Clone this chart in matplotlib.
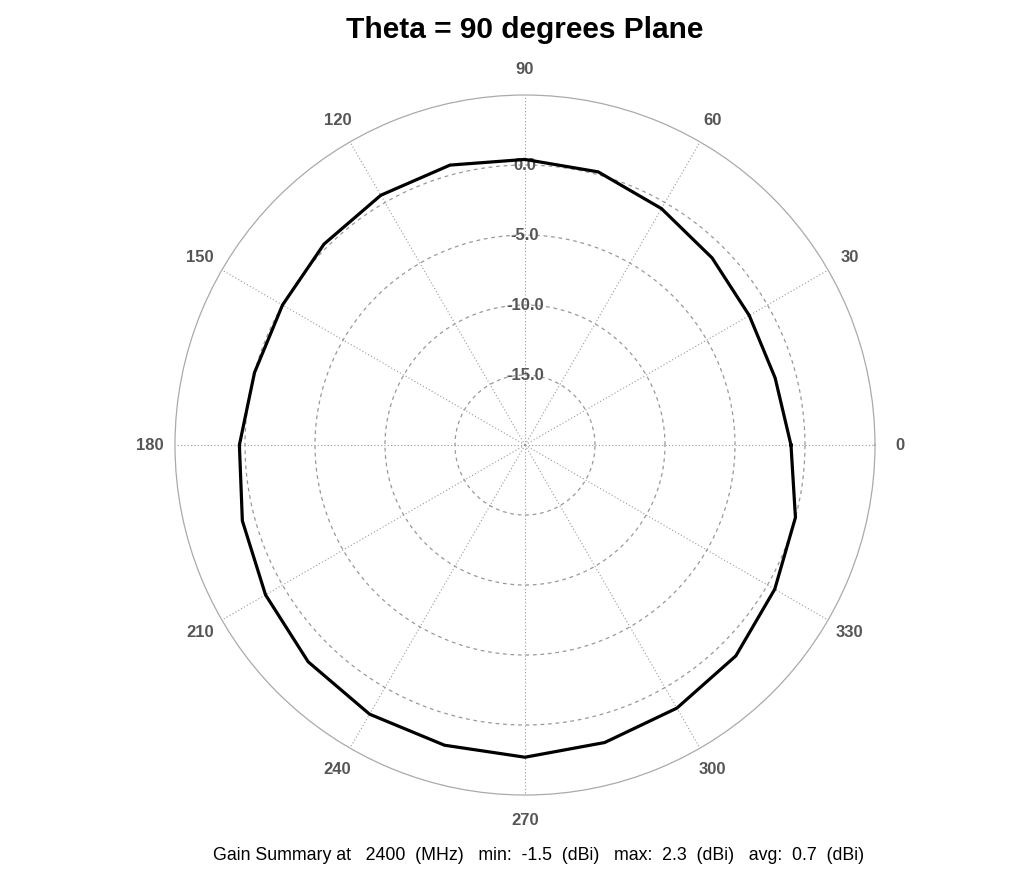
import numpy as np
import matplotlib
matplotlib.use("Agg")
import matplotlib.pyplot as plt

plt.rcParams['font.family'] = ['Liberation Sans', 'DejaVu Sans']

# pattern (Theta = 90 plane), phi in degrees, gain in dBi
phi_deg = [0, 15, 30, 45, 60, 75, 90, 105, 120, 135, 150, 165,
           180, 195, 210, 225, 240, 255, 270, 285, 300, 315, 330, 345]
gain_dbi = [-1.0, -1.5, -1.5, -1.1, -0.5, 0.2, 0.4, 0.7, 0.6, 0.3, 0.0, 0.0,
            0.4, 0.9, 1.4, 1.9, 2.2, 2.2, 2.3, 2.0, 1.7, 1.3, 0.6, 0.0]

ring_vals = [-15.0, -10.0, -5.0, 0.0]
angle_ticks = [0, 30, 60, 90, 120, 150, 180, 210, 240, 270, 300, 330]
r_min, r_max = -20, 5

summary = ("Gain Summary at   2400  (MHz)   min:  -1.5  (dBi)   "
           "max:  2.3  (dBi)   avg:  0.7  (dBi)")

fig = plt.figure(figsize=(10.09, 8.96), dpi=100)
ax = fig.add_axes([0.1734, 0.1127, 0.6938, 0.78125], projection='polar')

th = np.deg2rad(phi_deg + [phi_deg[0]])
g = gain_dbi + [gain_dbi[0]]
ax.plot(th, g, color='black', lw=2.3, zorder=5)

ax.set_ylim(r_min, r_max)
ax.set_yticks(ring_vals)
ax.set_yticklabels([])
ax.set_xticks(np.deg2rad(angle_ticks))
ax.set_xticklabels([])
ax.grid(False)

# dashed circles
tt = np.linspace(0, 2 * np.pi, 400)
for rv in ring_vals:
    ax.plot(tt, np.full_like(tt, rv), color='#999999', lw=0.9, ls=(0, (3, 3)), zorder=1)
    ax.text(np.pi / 2, rv, f"{rv:.1f}", ha='center', va='center', color='#555555',
            fontsize=12, fontweight='bold', zorder=2)

# dotted spokes
for a in angle_ticks:
    ax.plot([np.deg2rad(a)] * 2, [r_min, r_max], color='#999999', lw=0.8,
            ls=(0, (1, 2)), zorder=1)
    ax.text(np.deg2rad(a), 6.8, str(a), ha='center', va='center', color='#555555',
            fontsize=12, fontweight='bold', clip_on=False)

ax.spines['polar'].set_color('#aaaaaa')
ax.spines['polar'].set_linewidth(0.9)

fig.text(0.52, 0.966, "Theta = 90 degrees Plane", ha='center', va='center',
         fontsize=21.5, fontweight='bold')
fig.text(0.534, 0.045, summary, ha='center', va='center', fontsize=12.8)

fig.savefig("out.png", dpi=100)
